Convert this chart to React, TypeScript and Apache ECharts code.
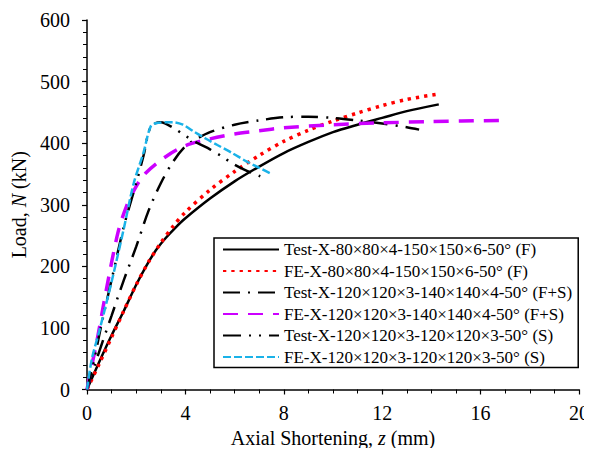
import React, { useEffect, useRef } from "react";
import * as echarts from "echarts";

const xTicks = [0, 4, 8, 12, 16, 20];
const yTicks = [0, 100, 200, 300, 400, 500, 600];

const seriesNames = [
  "Test-X-80×80×4-150×150×6-50° (F)",
  "FE-X-80×80×4-150×150×6-50° (F)",
  "Test-X-120×120×3-140×140×4-50° (F+S)",
  "FE-X-120×120×3-140×140×4-50° (F+S)",
  "Test-X-120×120×3-120×120×3-50° (S)",
  "FE-X-120×120×3-120×120×3-50° (S)",
];

const testF: number[][] = [
  [0, 0], [0.5, 45], [1, 88], [1.5, 128], [2, 170], [2.4, 200], [2.8, 226], [3.2, 246],
  [3.6, 263], [4, 278], [5, 310], [6, 338], [7, 362], [8, 384], [9, 402], [10, 418],
  [11, 430], [12, 441], [13, 452], [14.3, 463],
];
const feF: number[][] = [
  [0, 0], [0.5, 42], [1, 85], [1.5, 128], [2, 170], [2.5, 207], [3, 238], [3.5, 265],
  [4, 288], [5, 324], [6, 354], [7, 380], [8, 403], [9, 421], [10, 436], [11, 449],
  [12, 461], [13, 471], [14.3, 480],
];
const testFS: number[][] = [
  [0, 0], [0.5, 62], [1, 120], [1.5, 178], [2, 232], [2.5, 290], [3, 335], [3.5, 370],
  [4, 395], [4.5, 408], [5, 418], [6, 430], [7, 437], [8, 442], [9, 443], [10, 441],
  [11, 437], [12, 432], [13, 426], [13.5, 422],
];
const feFS: number[][] = [
  [0, 0], [0.2, 40], [0.4, 78], [0.8, 165], [1.26, 255], [1.6, 297], [2, 330], [2.4, 352],
  [3.2, 378], [4, 396], [5, 407], [6, 415], [7, 420], [8, 425], [10, 430], [12, 433],
  [14, 435], [16.8, 437],
];
const testS: number[][] = [
  [0, 0], [0.3, 50], [0.6, 108], [1, 178], [1.5, 265], [2, 335], [2.3, 380], [2.6, 428],
  [3.0, 434], [3.5, 425], [4, 412], [4.5, 400], [5, 390], [5.5, 378], [6, 365],
  [6.5, 355], [7, 347], [7.3, 342],
];
const feS: number[][] = [
  [0, 0], [0.2, 50], [0.5, 95], [1, 175], [1.5, 262], [1.9, 335], [2.3, 385], [2.6, 428],
  [2.9, 433], [3.5, 434], [3.9, 430], [4.3, 420], [4.8, 408], [5.3, 397], [5.9, 384],
  [6.5, 370], [7, 360], [7.5, 350],
];

const FONT = "Liberation Serif";

export default function App() {
  const ref = useRef<HTMLDivElement>(null);
  useEffect(() => {
    if (!ref.current) return;
    const chart = echarts.init(ref.current, undefined, { renderer: "svg" });
    const mk = (name: string, data: number[][], color: string, width: number, type: any) => ({
      name,
      type: "line",
      data,
      smooth: 0.3,
      showSymbol: false,
      symbol: "none",
      lineStyle: { color, width, type },
      itemStyle: { color },
      z: 2,
    });
    chart.setOption({
      animation: false,
      textStyle: { fontFamily: FONT },
      grid: { left: 87, right: 9, top: 20, bottom: 66.5, containLabel: false },
      xAxis: {
        type: "value",
        min: xTicks[0],
        max: xTicks[xTicks.length - 1],
        interval: 4,
        name: "Axial Shortening, {i|z} (mm)",
        nameLocation: "middle",
        nameGap: 38,
        nameTextStyle: {
          fontFamily: FONT,
          fontSize: 20,
          color: "#000",
          rich: { i: { fontFamily: FONT, fontSize: 20, fontStyle: "italic", color: "#000" } },
        },
        axisLine: { lineStyle: { color: "#000", width: 1.5 } },
        axisTick: { length: 5, lineStyle: { color: "#000", width: 1.2 } },
        minorTick: { show: true, splitNumber: 4, length: 4, lineStyle: { color: "#000", width: 1 } },
        splitLine: { show: false },
        axisLabel: { fontFamily: FONT, fontSize: 20, color: "#000", margin: 13 },
      },
      yAxis: {
        type: "value",
        min: yTicks[0],
        max: yTicks[yTicks.length - 1],
        interval: 100,
        name: "Load, {i|N} (kN)",
        nameLocation: "middle",
        nameGap: 55,
        nameTextStyle: {
          fontFamily: FONT,
          fontSize: 20,
          color: "#000",
          rich: { i: { fontFamily: FONT, fontSize: 20, fontStyle: "italic", color: "#000" } },
        },
        axisLine: { show: true, lineStyle: { color: "#000", width: 1.5 } },
        axisTick: { show: true, length: 5, lineStyle: { color: "#000", width: 1.2 } },
        minorTick: { show: true, splitNumber: 5, length: 4, lineStyle: { color: "#000", width: 1 } },
        splitLine: { show: false },
        axisLabel: { fontFamily: FONT, fontSize: 20, color: "#000", margin: 17 },
      },
      legend: {
        orient: "vertical",
        left: 214,
        top: 238,
        backgroundColor: "#fff",
        borderColor: "#000",
        borderWidth: 1.5,
        padding: [3, 6, 2, 8],
        itemWidth: 56,
        itemHeight: 14,
        itemGap: 4.5,
        itemStyle: { opacity: 0 },
        textStyle: { fontFamily: FONT, fontSize: 17, color: "#000", padding: [0, 0, 0, 0] },
        data: seriesNames,
      },
      series: [
        mk(seriesNames[0], testF, "#000", 2.5, "solid"),
        mk(seriesNames[1], feF, "#ff0000", 3.5, [3.3, 5]),
        mk(seriesNames[2], testFS, "#000", 2.5, [17, 8, 2, 8]),
        mk(seriesNames[3], feFS, "#cc00ff", 3.5, [15, 10]),
        mk(seriesNames[4], testS, "#000", 2.5, [18, 8, 2, 8, 2, 8]),
        mk(seriesNames[5], feS, "#1ab2e8", 2.5, [8, 3]),
      ],
    });
    return () => chart.dispose();
  }, []);
  return <div ref={ref} style={{ width: 592, height: 456, margin: -8, overflow: "hidden" }} />;
}
